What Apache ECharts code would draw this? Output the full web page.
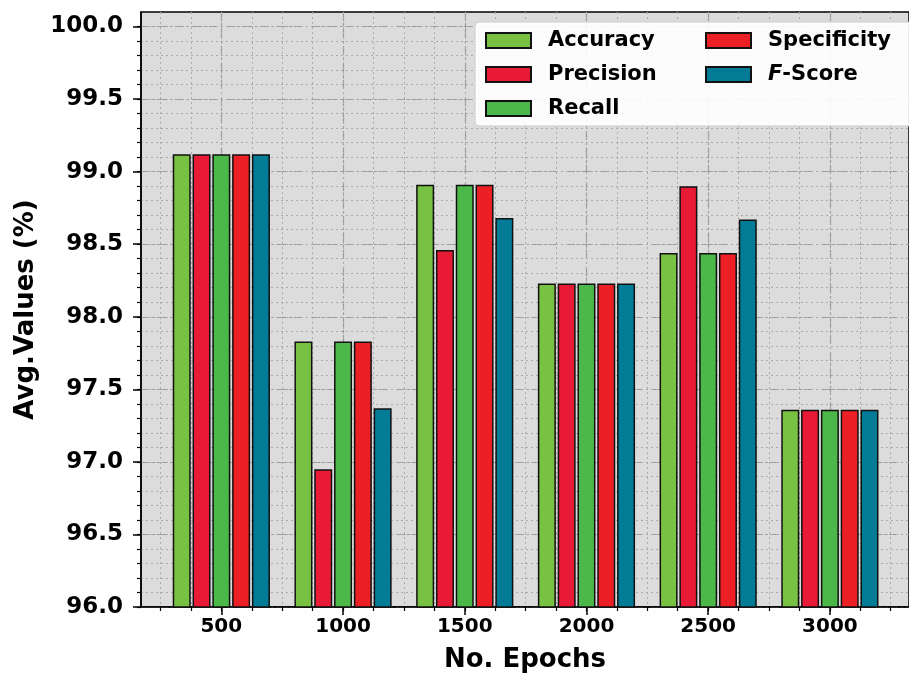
<!DOCTYPE html>
<html>
<head>
<meta charset="utf-8">
<script src="https://cdn.jsdelivr.net/npm/echarts@6/dist/echarts.min.js"></script>
<style>html,body{margin:0;padding:0;background:#fff}#c{width:909px;height:678px}</style>
</head>
<body>
<div id="c"></div>
<script>
const epochs = ['500', '1000', '1500', '2000', '2500', '3000'];
const accuracy    = [99.12, 97.83, 98.91, 98.23, 98.44, 97.36];
const precision   = [99.12, 96.95, 98.46, 98.23, 98.90, 97.36];
const recall      = [99.12, 97.83, 98.91, 98.23, 98.44, 97.36];
const specificity = [99.12, 97.83, 98.91, 98.23, 98.44, 97.36];
const fscore      = [99.12, 97.37, 98.68, 98.23, 98.67, 97.36];
const yTicks = [96.0, 96.5, 97.0, 97.5, 98.0, 98.5, 99.0, 99.5, 100.0];

const FONT = 'DejaVu Sans';
const seriesDefs = [
  ['Accuracy', accuracy, '#79c143'],
  ['Precision', precision, '#e91a35'],
  ['Recall', recall, '#4cb849'],
  ['Specificity', specificity, '#ec2024'],
  ['F-Score', fscore, '#027c96']
];

const xMajor = epochs.map((e, i) => i);
const xMinor = [];
for (let k = -2; k <= 22; k++) xMinor.push(k / 4);
const yMinor = [];
for (let k = 960; k <= 1000; k++) yMinor.push(k / 10);

const dashDot = [9, 3, 2, 3];
const chart = echarts.init(document.getElementById('c'), null, {renderer: 'canvas'});

const legendText = {
  fontFamily: FONT, fontWeight: 'bold', fontSize: 21, color: '#000', lineHeight: 20,
  padding: [0, 0, 0, 12],
  rich: {
    i: {fontFamily: FONT, fontWeight: 'bold', fontStyle: 'italic', fontSize: 21, color: '#000'},
    b: {fontFamily: FONT, fontWeight: 'bold', fontSize: 21, color: '#000'}
  }
};
const legendFmt = name => name === 'F-Score' ? '{i|F}{b|-Score}' : name;

chart.setOption({
  animation: false,
  backgroundColor: '#ffffff',
  grid: {
    left: 141, top: 12, right: -4, bottom: 69,
    show: true, backgroundColor: '#dcdcdc', borderColor: '#000', borderWidth: 1.5
  },
  graphic: [{
    type: 'rect', z: 5,
    shape: {x: 475, y: 22, width: 440, height: 104, r: 4},
    style: {fill: 'rgba(255,255,255,0.9)', stroke: '#cccccc', lineWidth: 1}
  }],
  legend: [
    {
      z: 6, orient: 'vertical', left: 485, top: 30, padding: 0, itemGap: 13,
      itemWidth: 45, itemHeight: 15, icon: 'rect',
      data: ['Accuracy', 'Precision', 'Recall'],
      textStyle: legendText, formatter: legendFmt
    },
    {
      z: 6, orient: 'vertical', left: 705, top: 30, padding: 0, itemGap: 13,
      itemWidth: 45, itemHeight: 15, icon: 'rect',
      data: ['Specificity', 'F-Score'],
      textStyle: legendText, formatter: legendFmt
    }
  ],
  xAxis: [
    {
      type: 'value', min: -0.66, max: 5.65, position: 'bottom',
      axisLine: {show: true, onZero: false, lineStyle: {color: '#000', width: 1.5}},
      axisTick: {show: true, customValues: xMajor, length: 8, lineStyle: {color: '#000', width: 1.5}},
      axisLabel: {
        customValues: xMajor, formatter: v => epochs[Math.round(v)],
        fontFamily: FONT, fontWeight: 'bold', fontSize: 20, color: '#000', margin: 10
      },
      splitLine: {show: true, lineStyle: {color: '#9a9a9a', width: 1.2, type: dashDot}},
      name: 'No. Epochs', nameLocation: 'middle', nameGap: 40,
      nameTextStyle: {fontFamily: FONT, fontWeight: 'bold', fontSize: 26, color: '#000'}
    },
    {
      type: 'value', min: -0.66, max: 5.65, position: 'bottom',
      axisLine: {show: false, onZero: false},
      axisTick: {show: true, customValues: xMinor, length: 4, lineStyle: {color: '#000', width: 1.2}},
      axisLabel: {show: false},
      splitLine: {show: true, lineStyle: {color: '#ababab', width: 1, type: [2, 3]}}
    }
  ],
  yAxis: [
    {
      type: 'value', min: 96, max: 100.1, position: 'left',
      axisLine: {show: true, onZero: false, lineStyle: {color: '#000', width: 1.5}},
      axisTick: {show: true, customValues: yTicks, length: 8, lineStyle: {color: '#000', width: 1.5}},
      axisLabel: {
        customValues: yTicks, formatter: v => Number(v).toFixed(1),
        fontFamily: FONT, fontWeight: 'bold', fontSize: 23, color: '#000', margin: 18
      },
      splitLine: {show: true, lineStyle: {color: '#9a9a9a', width: 1.2, type: dashDot}},
      name: 'Avg.Values (%)', nameLocation: 'middle', nameGap: 97,
      nameTextStyle: {fontFamily: FONT, fontWeight: 'bold', fontSize: 26, color: '#000'}
    },
    {
      type: 'value', min: 96, max: 100.1, position: 'left',
      axisLine: {show: false, onZero: false},
      axisTick: {show: true, customValues: yMinor, length: 4, lineStyle: {color: '#000', width: 1.2}},
      axisLabel: {show: false},
      splitLine: {show: true, lineStyle: {color: '#ababab', width: 1, type: [2, 3]}}
    }
  ],
  series: seriesDefs.map(([name, arr, color]) => ({
    name: name, type: 'bar', xAxisIndex: 0, yAxisIndex: 0,
    barWidth: 18, barGap: '10%',
    itemStyle: {color: color, borderColor: '#111', borderWidth: 1.5},
    data: arr.map((v, i) => [i, v])
  }))
});
</script>
</body>
</html>
